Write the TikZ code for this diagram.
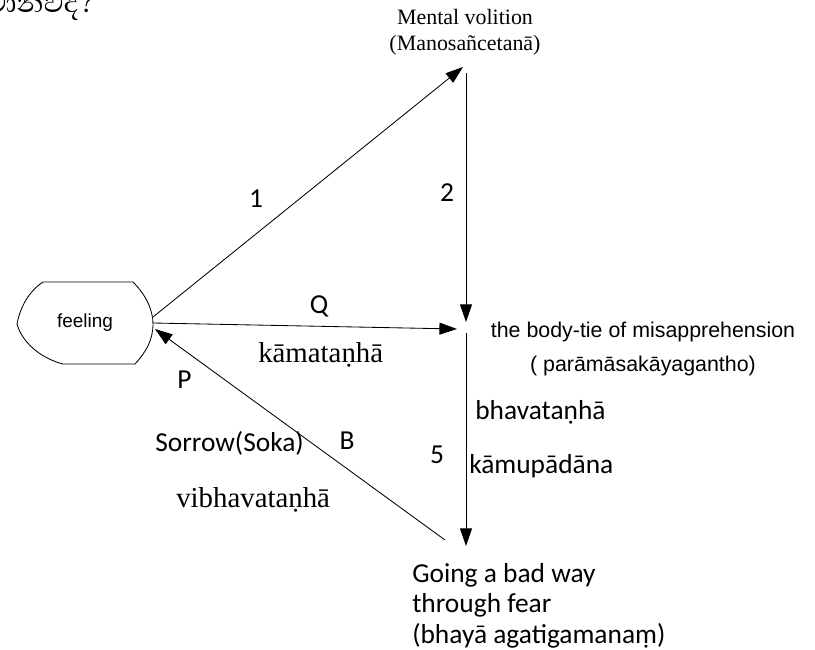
\documentclass[tikz,border=0pt]{standalone}
\usepackage{fontspec}
\setmainfont{Liberation Serif}
\newfontfamily\arialfont{Liberation Sans}
\newfontfamily\calfont{Carlito}
\newfontfamily\sinhalafont[Script=Sinhala]{Abhaya Libre}
\usetikzlibrary{arrows.meta}
\tikzset{
	arr/.style={-{Triangle[length=12.5pt,width=8.5pt]}, line width=0.6pt},
	lbl/.style={inner sep=0pt, font=\calfont\fontsize{19.5}{21.6}\selectfont},
	serif/.style={inner sep=0pt, font=\fontsize{20.5}{24}\selectfont},
}

\begin{document}
\begin{tikzpicture}[x=0.025cm, y=-0.025cm]
				\useasboundingbox (0,0) rectangle (815,650);
				
				\node[inner sep=0pt, anchor=base east, font=\sinhalafont\fontsize{25}{28}\selectfont] (question) at (95,13) {මොනවද?};
				
				\draw[line width=0.6pt] (43,282) -- (133,282) .. controls (146,295) and (153,310) .. (153,324) .. controls (153,340) and (146,352) .. (135,364) -- (63,364) .. controls (40,358) and (22,342) .. (17,324) .. controls (20,308) and (28,292) .. (43,282) -- cycle;
				\node[inner sep=0pt, font=\arialfont\fontsize{13.5}{16}\selectfont] (feeling) at (85,323) {feeling};
				
				\node[inner sep=0pt, anchor=north, align=center, font=\fontsize{15.6}{18.4}\selectfont] (volition) at (465,9) {Mental volition\\(Manosañcetanā)};
				\node[inner sep=0pt, anchor=north, align=center, font=\arialfont\fontsize{15.2}{24.1}\selectfont] (bodytie) at (643,321.5) {the body-tie of misapprehension\\( parāmāsakāyagantho)};
				\node[lbl, anchor=north west, align=left] (goingbad) at (412,563) {Going a bad way\\through fear\\(bhayā agatigamanaṃ)};
				
				\coordinate (feelTop) at (153,317);
				\coordinate (feelMid) at (153,323);
				\coordinate (feelIn) at (155,329);
				\coordinate (volTip) at (463,67);
				\coordinate (volFoot) at (466,73);
				\coordinate (tieTop) at (466,322);
				\coordinate (tieLeft) at (457,329);
				\coordinate (tieFoot) at (466,333);
				\coordinate (badTop) at (466,546);
				\coordinate (badLeft) at (445,540);
				
				\draw[arr] (feelTop) -- (volTip);
				\draw[arr] (volFoot) -- (tieTop);
				\draw[arr] (feelMid) -- (tieLeft);
				\draw[arr] (tieFoot) -- (badTop);
				\draw[arr] (badLeft) -- (feelIn);
				
				\node[lbl, anchor=base] (one) at (256,207) {1};
				\node[lbl, anchor=base] (two) at (447,201) {2};
				\node[lbl, anchor=base] (q) at (319,313) {Q};
				\node[lbl, anchor=base west] (p) at (177,388) {P};
				\node[lbl, anchor=base west] (sorrow) at (155,451) {Sorrow(Soka)};
				\node[lbl, anchor=base] (b) at (347,449) {B};
				\node[lbl, anchor=base] (five) at (437,463) {5};
				\node[lbl, anchor=base west] (bhava) at (475,419) {bhavataṇhā};
				\node[lbl, anchor=base west] (kamupa) at (469,473) {kāmupādāna};
				\node[serif, anchor=base west] (kama) at (258,362) {kāmataṇhā};
				\node[serif, anchor=base west] (vibhava) at (176,507) {vibhavataṇhā};
\end{tikzpicture}
\end{document}
